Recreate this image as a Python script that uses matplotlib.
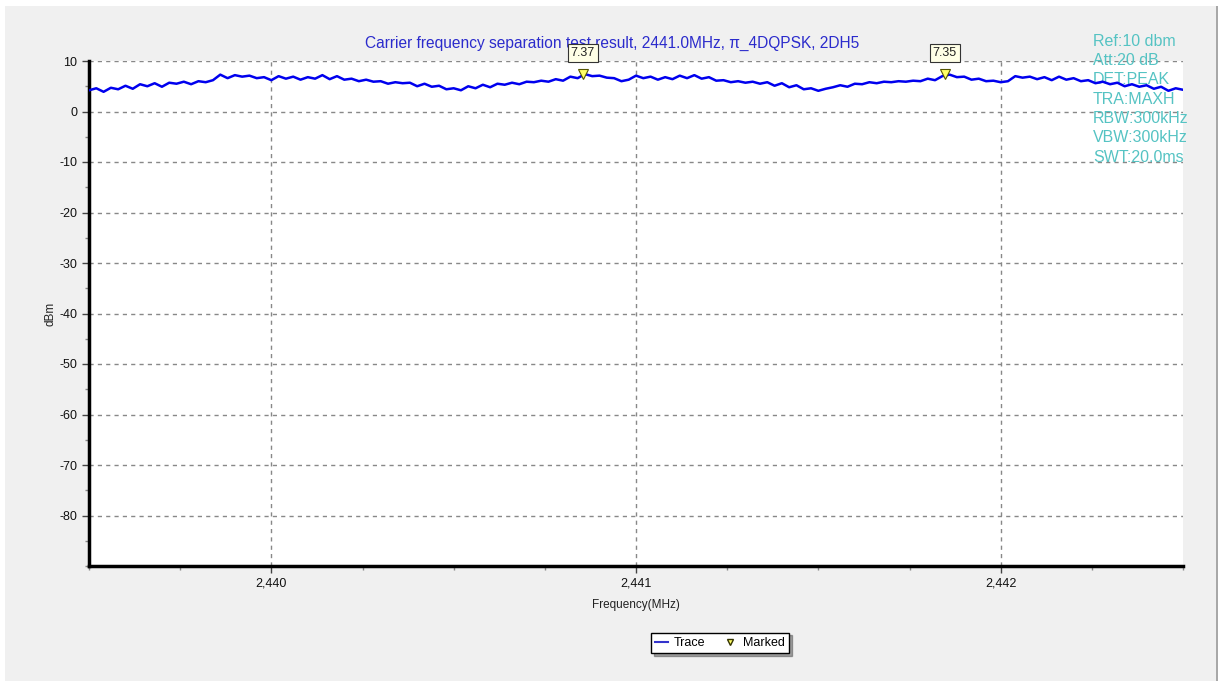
import numpy as np
import matplotlib
matplotlib.use("Agg")
import matplotlib.pyplot as plt
from matplotlib.patches import Rectangle
from matplotlib.ticker import FixedLocator, MultipleLocator, FuncFormatter
from matplotlib.lines import Line2D

plt.rcParams['font.family'] = ['Liberation Sans', 'DejaVu Sans']
plt.rcParams['axes.unicode_minus'] = False

# sweep span and measured trace (dBm), one sample per 0.02 MHz
span_start = 2439.5
span_stop = 2442.5
trace_dbm = [
    4.2, 4.6, 3.9, 4.7, 4.4, 5.1, 4.5, 5.4, 5.0, 5.6,
    4.9, 5.7, 5.5, 5.9, 5.4, 6.0, 5.8, 6.2, 7.3, 6.6,
    7.2, 6.9, 7.1, 6.6, 6.8, 6.2, 7.0, 6.5, 6.9, 6.3,
    6.8, 6.5, 7.2, 6.4, 7.0, 6.3, 6.5, 6.0, 6.3, 5.9,
    6.0, 5.5, 5.8, 5.6, 5.7, 5.0, 5.5, 4.9, 5.1, 4.4,
    4.6, 4.2, 5.0, 4.6, 5.3, 4.8, 5.5, 5.3, 5.7, 5.4,
    5.9, 5.8, 6.1, 5.9, 6.4, 6.1, 6.9, 6.6, 7.4, 7.0,
    7.1, 6.7, 6.6, 6.0, 6.3, 7.1, 6.6, 6.9, 6.3, 6.8,
    6.4, 7.1, 6.6, 7.2, 6.5, 6.8, 6.1, 6.2, 5.8, 6.0,
    5.7, 5.9, 5.5, 5.8, 5.1, 5.6, 4.8, 5.2, 4.4, 4.6,
    4.1, 4.5, 4.8, 5.2, 4.9, 5.5, 5.4, 5.8, 5.6, 5.9,
    5.8, 6.0, 5.9, 6.1, 6.0, 6.5, 6.2, 7.0, 7.3, 6.8,
    6.9, 6.3, 6.5, 6.0, 6.1, 5.8, 6.0, 7.0, 6.7, 6.9,
    6.4, 6.8, 6.2, 6.9, 6.3, 6.6, 6.0, 6.2, 5.6, 5.9,
    5.4, 5.7, 5.0, 5.4, 4.9, 5.2, 4.5, 4.9, 4.1, 4.6,
    4.3,
]
freq_mhz = np.linspace(span_start, span_stop, len(trace_dbm))

# marker peaks
marker_freq = [2440.854, 2441.847]
marker_dbm = [7.37, 7.35]

settings = ['Ref:10 dbm', 'Att:20 dB', 'DET:PEAK', 'TRA:MAXH',
            'RBW:300kHz', 'VBW:300kHz', 'SWT:20.0ms']

W, H = 1219, 681
fig = plt.figure(figsize=(W / 100, H / 100), dpi=100, facecolor='white')
fig.patches.append(Rectangle((5 / W, 0), 1212 / W, 1 - 6 / H, transform=fig.transFigure,
                             facecolor='#f0f0f0', edgecolor='none', zorder=-10))
fig.patches.append(Rectangle((1216 / W, 0), 2 / W, 1 - 6 / H, transform=fig.transFigure,
                             facecolor='#a8a8a8', edgecolor='none', zorder=-9))

ax = fig.add_axes([89 / W, 1 - 566 / H, (1183 - 89) / W, (566 - 61) / H])
ax.set_facecolor('white')

ax.plot(freq_mhz, trace_dbm, color='#0000ee', lw=1.8, zorder=3)
ax.plot(marker_freq, marker_dbm, linestyle='none', marker='v', markersize=7,
        markerfacecolor='#ffff66', markeredgecolor='#555500', markeredgewidth=0.8, zorder=4)
for f, v in zip(marker_freq, marker_dbm):
    ax.annotate(f'{v:.2f}', (f, v), xytext=(0, 11), textcoords='offset points',
                ha='center', va='bottom', fontsize=9, color='#222222', zorder=5,
                annotation_clip=False,
                bbox=dict(boxstyle='square,pad=0.25', facecolor='#ffffe6',
                          edgecolor='#333333', lw=0.8))

ax.set_xlim(span_start, span_stop)
ax.set_ylim(-90, 10)
ax.xaxis.set_major_locator(FixedLocator([2440, 2441, 2442]))
ax.xaxis.set_minor_locator(MultipleLocator(0.25))
ax.xaxis.set_major_formatter(FuncFormatter(lambda x, p: f'{x:,.0f}'))
ax.yaxis.set_major_locator(FixedLocator(np.arange(-80, 11, 10)))
ax.yaxis.set_minor_locator(MultipleLocator(5))

ax.grid(True, which='major', color='#888888', linestyle=(0, (3, 3)), lw=1, zorder=1)
ax.set_axisbelow(True)
for s in ['top', 'right']:
    ax.spines[s].set_visible(False)
for s in ['left', 'bottom']:
    ax.spines[s].set_linewidth(2.5)
    ax.spines[s].set_color('black')
ax.tick_params(which='major', length=5, width=1, color='#444444', labelsize=9, labelcolor='#111111')
ax.tick_params(which='minor', length=3, width=1, color='#888888')
ax.tick_params(axis='x', pad=3)

ax.set_xlabel('Frequency(MHz)', fontsize=8.5, color='#222222', labelpad=7)
ax.set_ylabel('dBm', fontsize=8.5, color='#222222', labelpad=2)

fig.text(612 / W, 1 - 43 / H, 'Carrier frequency separation test result, 2441.0MHz, \u03c0_4DQPSK, 2DH5',
         ha='center', va='center', fontsize=11.2, color='#2b2bcc', zorder=-1)

for i, s in enumerate(settings):
    ax.text(1093 / W, 1 - (41 + i * 19.4) / H, s, transform=fig.transFigure,
            ha='left', va='center', fontsize=11.5, color='#55c3c3', zorder=2, clip_on=False)

handles = [Line2D([], [], color='#3333cc', lw=1.5),
           Line2D([], [], linestyle='none', marker='v', markersize=5,
                  markerfacecolor='#ffff66', markeredgecolor='#333300')]
leg = fig.legend(handles, ['Trace', 'Marked'], loc='center', ncol=2,
                 bbox_to_anchor=(720 / W, 1 - 643 / H), fontsize=9,
                 frameon=True, fancybox=False, shadow=True, edgecolor='black',
                 handlelength=1.0, handletextpad=0.5, columnspacing=1.5,
                 borderpad=0.35)
leg.get_frame().set_linewidth(1)

fig.savefig('out.png', dpi=100, facecolor=fig.get_facecolor())
